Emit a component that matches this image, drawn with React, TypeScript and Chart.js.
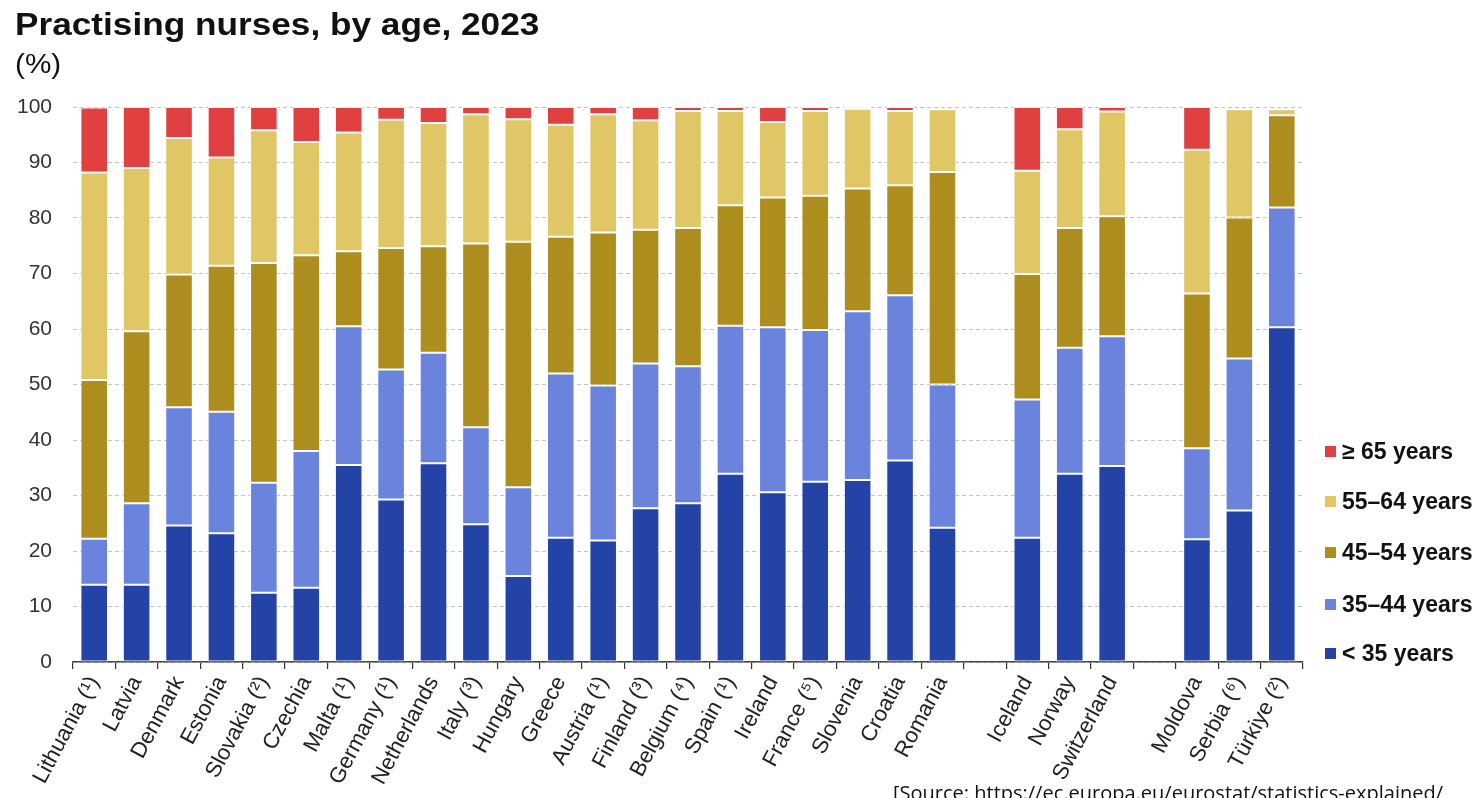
import React, { useEffect, useRef } from "react";
import { Chart, registerables } from "chart.js";

Chart.register(...registerables);

const categories = [
  "Lithuania (¹)", "Latvia", "Denmark", "Estonia", "Slovakia (²)", "Czechia", "Malta (¹)",
  "Germany (¹)", "Netherlands", "Italy (³)", "Hungary", "Greece", "Austria (¹)", "Finland (³)",
  "Belgium (⁴)", "Spain (¹)", "Ireland", "France (⁵)", "Slovenia", "Croatia", "Romania", "",
  "Iceland", "Norway", "Switzerland", "", "Moldova", "Serbia (⁶)", "Türkiye (²)",
];

const under35 = [13.9, 13.9, 24.6, 23.2, 12.5, 13.4, 35.5, 29.3, 35.8, 24.8, 15.5, 22.4, 21.9, 27.7, 28.6, 33.9, 30.6, 32.5, 32.8, 36.3, 24.2, null, 22.4, 33.9, 35.3, null, 22.1, 27.3, 60.3];
const age35to44 = [8.3, 14.7, 21.3, 21.9, 19.8, 24.6, 25.0, 23.4, 19.9, 17.5, 16.0, 29.6, 27.9, 26.1, 24.7, 26.7, 29.7, 27.3, 30.4, 29.8, 25.8, null, 24.9, 22.7, 23.4, null, 16.4, 27.4, 21.6];
const age45to54 = [28.6, 31.0, 23.9, 26.3, 39.6, 35.3, 13.5, 21.9, 19.2, 33.1, 44.2, 24.6, 27.6, 24.1, 24.9, 21.7, 23.4, 24.2, 22.1, 19.8, 38.3, null, 22.6, 21.6, 21.6, null, 27.9, 25.4, 16.6];
const age55to64 = [37.4, 29.4, 24.6, 19.5, 23.9, 20.4, 21.4, 23.1, 22.2, 23.3, 22.1, 20.2, 21.3, 19.7, 21.1, 17.0, 13.6, 15.3, 14.4, 13.4, 11.3, null, 18.6, 17.8, 18.9, null, 25.9, 19.5, 1.1];
const age65plus = [11.7, 11.0, 5.6, 9.1, 4.2, 6.3, 4.6, 2.3, 2.9, 1.3, 2.2, 3.2, 1.3, 2.4, 0.7, 0.7, 2.7, 0.7, 0.3, 0.7, null, null, 11.5, 4.0, 0.8, null, 7.7, null, null];

const seriesNames = ["< 35 years", "35–44 years", "45–54 years", "55–64 years", "≥ 65 years"];
const seriesColors = ["#2443a6", "#6a84de", "#ae8d1f", "#e0c664", "#e04040"];
const yTicks = [0, 10, 20, 30, 40, 50, 60, 70, 80, 90, 100];

const FONT = "'Liberation Sans', Arial, sans-serif";

export default function App() {
  const canvasRef = useRef<HTMLCanvasElement | null>(null);

  useEffect(() => {
    const values = [under35, age35to44, age45to54, age55to64, age65plus];
    const chart = new Chart(canvasRef.current as HTMLCanvasElement, {
      type: "bar",
      data: {
        labels: categories,
        datasets: values.map((d, i) => ({
          label: seriesNames[i],
          data: d,
          backgroundColor: seriesColors[i],
          borderColor: "rgba(255,255,255,0.75)",
          borderWidth: 1,
          borderSkipped: false,
          categoryPercentage: 1,
          barPercentage: 0.65,
        })),
      },
      options: {
        animation: false,
        responsive: false,
        maintainAspectRatio: false,
        layout: { padding: { top: 107, right: 178, left: 0, bottom: 0 } },
        plugins: { legend: { display: false }, tooltip: { enabled: false }, title: { display: false } },
        scales: {
          x: {
            stacked: true,
            afterFit: (s: any) => { s.height = 136; },
            grid: { display: true, offset: true, drawOnChartArea: false, drawTicks: true, tickLength: 7, color: "#333", lineWidth: 1.2 },
            border: { display: true, color: "#444", width: 1.5 },
            ticks: {
              autoSkip: false,
              maxRotation: 62,
              minRotation: 62,
              padding: 3,
              color: "#222",
              font: { family: FONT, size: 22 },
            },
          },
          y: {
            stacked: true,
            min: 0,
            max: 100,
            afterFit: (s: any) => { s.width = 73; },
            afterBuildTicks: (s: any) => { s.ticks = yTicks.map((v) => ({ value: v })); },
            grid: { color: "#c4c4c4", lineWidth: 1, drawTicks: false },
            border: { display: false, dash: [4, 3] },
            ticks: {
              padding: 21,
              color: "#333",
              font: { family: FONT, size: 21 },
            },
          },
        },
      },
    });
    return () => chart.destroy();
  }, []);

  const legendOrder = [4, 3, 2, 1, 0];
  const legendY = [451, 501, 552, 604, 653];

  return (
    <div style={{ position: "fixed", left: 0, top: 0, width: 1481, height: 798, overflow: "hidden", background: "#fff", fontFamily: FONT }}>
      <canvas ref={canvasRef} width={1481} height={798} style={{ position: "absolute", left: 0, top: 0, width: 1481, height: 798 }} />
      <div style={{ position: "absolute", left: 15, top: 4, fontSize: 32, lineHeight: "40px", fontWeight: "bold", color: "#111", whiteSpace: "nowrap", transform: "scaleX(1.1)", transformOrigin: "left center" }}>
        Practising nurses, by age, 2023
      </div>
      <div style={{ position: "absolute", left: 15, top: 48, fontSize: 27, lineHeight: "32px", color: "#111", whiteSpace: "nowrap", transform: "scaleX(1.1)", transformOrigin: "left center" }}>
        (%)
      </div>
      {legendOrder.map((si, k) => (
        <div key={si} style={{ position: "absolute", left: 1325, top: legendY[k] - 14, height: 28, display: "flex", alignItems: "center", whiteSpace: "nowrap" }}>
          <span style={{ display: "inline-block", width: 11, height: 11, background: seriesColors[si], marginRight: 6 }} />
          <span style={{ fontSize: 23, fontWeight: "bold", color: "#111", lineHeight: "28px" }}>{seriesNames[si]}</span>
        </div>
      ))}
      <div style={{ position: "absolute", left: 893, top: 780, fontSize: 20, lineHeight: "26px", color: "#111", whiteSpace: "nowrap", fontFamily: "'Open Sans', sans-serif" }}>
        [Source: https://ec.europa.eu/eurostat/statistics-explained/
      </div>
    </div>
  );
}
